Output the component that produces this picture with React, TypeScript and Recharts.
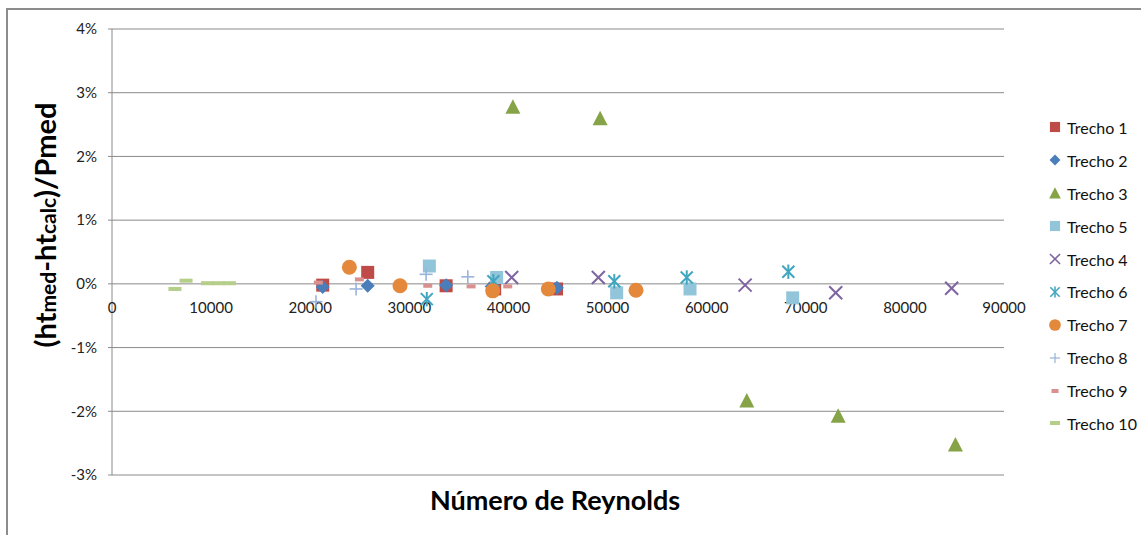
import React from 'react';
import { ScatterChart, Scatter, XAxis, YAxis, CartesianGrid, Legend, ReferenceDot } from 'recharts';

const xTicks = [0, 10000, 20000, 30000, 40000, 50000, 60000, 70000, 80000, 90000];
const yTicks = [-3, -2, -1, 0, 1, 2, 3, 4];

const trecho1 = [
  { x: 21260, y: -0.02 }, { x: 25800, y: 0.18 }, { x: 33710, y: -0.03 }, { x: 38610, y: -0.08 }, { x: 44850, y: -0.08 },
];
const trecho2 = [
  { x: 21260, y: -0.05 }, { x: 25800, y: -0.03 }, { x: 33710, y: -0.02 }, { x: 38310, y: -0.04 }, { x: 44890, y: -0.06 },
];
const trecho3 = [
  { x: 40450, y: 2.78 }, { x: 49250, y: 2.6 }, { x: 64050, y: -1.83 }, { x: 73270, y: -2.07 }, { x: 85100, y: -2.52 },
];
const trecho5 = [
  { x: 32020, y: 0.28 }, { x: 38810, y: 0.1 }, { x: 50920, y: -0.14 }, { x: 58320, y: -0.08 }, { x: 68680, y: -0.22 },
];
const trecho4 = [
  { x: 40330, y: 0.1 }, { x: 49070, y: 0.1 }, { x: 63880, y: -0.02 }, { x: 73020, y: -0.14 }, { x: 84720, y: -0.07 },
];
const trecho6 = [
  { x: 31760, y: -0.24 }, { x: 38480, y: 0.04 }, { x: 50680, y: 0.04 }, { x: 57990, y: 0.1 }, { x: 68240, y: 0.19 },
];
const trecho7 = [
  { x: 23950, y: 0.26 }, { x: 29060, y: -0.03 }, { x: 38410, y: -0.11 }, { x: 44020, y: -0.08 }, { x: 52870, y: -0.1 },
];
const trecho8 = [
  { x: 20580, y: -0.28 }, { x: 24630, y: -0.08 }, { x: 31690, y: 0.15 }, { x: 35900, y: 0.11 },
];
const trecho9 = [
  { x: 20820, y: 0.02 }, { x: 24960, y: 0.07 }, { x: 31860, y: -0.03 }, { x: 36230, y: -0.04 }, { x: 39930, y: -0.04 },
];
const trecho10 = [
  { x: 6350, y: -0.08 }, { x: 7470, y: 0.05 }, { x: 9630, y: 0.01 }, { x: 10740, y: 0.01 }, { x: 11860, y: 0.01 },
];

type Kind = 'square' | 'diamond' | 'triangle' | 'x' | 'star' | 'circle' | 'plus' | 'dash' | 'wdash';

const SERIES: { name: string; data: { x: number; y: number }[]; color: string; kind: Kind }[] = [
  { name: 'Trecho 1', data: trecho1, color: '#BE4B48', kind: 'square' },
  { name: 'Trecho 2', data: trecho2, color: '#4A7EBB', kind: 'diamond' },
  { name: 'Trecho 3', data: trecho3, color: '#86A447', kind: 'triangle' },
  { name: 'Trecho 5', data: trecho5, color: '#92C5D9', kind: 'square' },
  { name: 'Trecho 4', data: trecho4, color: '#7E64A0', kind: 'x' },
  { name: 'Trecho 6', data: trecho6, color: '#40A6BF', kind: 'star' },
  { name: 'Trecho 7', data: trecho7, color: '#E4893C', kind: 'circle' },
  { name: 'Trecho 8', data: trecho8, color: '#98B4DA', kind: 'plus' },
  { name: 'Trecho 9', data: trecho9, color: '#D9908E', kind: 'dash' },
  { name: 'Trecho 10', data: trecho10, color: '#B5CE8A', kind: 'wdash' },
];

function Marker({ kind, cx, cy, color, s = 1 }: { kind: Kind; cx: number; cy: number; color: string; s?: number }) {
  if (cx == null || cy == null) return null;
  switch (kind) {
    case 'square': {
      const h = 6.5 * s;
      return <rect x={cx - h} y={cy - h} width={2 * h} height={2 * h} fill={color} />;
    }
    case 'diamond': {
      const h = 7 * s;
      return <polygon points={`${cx},${cy - h} ${cx + h},${cy} ${cx},${cy + h} ${cx - h},${cy}`} fill={color} />;
    }
    case 'triangle': {
      const h = 7.5 * s;
      return <polygon points={`${cx},${cy - h} ${cx + h},${cy + h * 0.95} ${cx - h},${cy + h * 0.95}`} fill={color} />;
    }
    case 'circle':
      return <circle cx={cx} cy={cy} r={7.5 * s} fill={color} />;
    case 'x': {
      const h = 6.5 * s;
      return (
        <g stroke={color} strokeWidth={2 * Math.max(s, 0.6)}>
          <line x1={cx - h} y1={cy - h} x2={cx + h} y2={cy + h} />
          <line x1={cx - h} y1={cy + h} x2={cx + h} y2={cy - h} />
        </g>
      );
    }
    case 'star': {
      const h = 6 * s;
      return (
        <g stroke={color} strokeWidth={2 * Math.max(s, 0.6)}>
          <line x1={cx - h} y1={cy - h} x2={cx + h} y2={cy + h} />
          <line x1={cx - h} y1={cy + h} x2={cx + h} y2={cy - h} />
          <line x1={cx} y1={cy - h * 1.2} x2={cx} y2={cy + h * 1.2} />
        </g>
      );
    }
    case 'plus': {
      const h = 6.5 * s;
      return (
        <g stroke={color} strokeWidth={1.6 * Math.max(s, 0.6)}>
          <line x1={cx - h} y1={cy} x2={cx + h} y2={cy} />
          <line x1={cx} y1={cy - h} x2={cx} y2={cy + h} />
        </g>
      );
    }
    case 'dash': {
      const w = 4.5 * s;
      return <rect x={cx - w} y={cy - 2} width={2 * w} height={4} fill={color} />;
    }
    case 'wdash': {
      const w = 6.5 * s;
      return <rect x={cx - w} y={cy - 2} width={2 * w} height={4} fill={color} />;
    }
  }
  return null;
}

const FONT = 'Lato, "Open Sans", sans-serif';

function LegendBox() {
  return (
    <div style={{ fontFamily: FONT, fontSize: 16, color: '#111' }}>
      {SERIES.map((s) => (
        <div key={s.name} style={{ height: 32.9, display: 'flex', alignItems: 'center' }}>
          <svg width={20} height={20} style={{ marginRight: 2 }}>
            <Marker kind={s.kind} cx={10} cy={10} color={s.color} s={0.78} />
          </svg>
          <span>{s.name}</span>
        </div>
      ))}
    </div>
  );
}

function YTitle() {
  return (
    <text
      transform="translate(56, 225) rotate(-90)"
      textAnchor="middle"
      fontFamily={FONT}
      fontWeight={700}
      fontSize={29}
      fill="#000"
    >
      <tspan>(ht</tspan>
      <tspan fontSize={21}>med</tspan>
      <tspan>-ht</tspan>
      <tspan fontSize={21}>calc</tspan>
      <tspan>)/Pmed</tspan>
    </text>
  );
}

function XTitle() {
  return (
    <text x={555} y={510} textAnchor="middle" fontFamily={FONT} fontWeight={700} fontSize={27} fill="#000">
      Número de Reynolds
    </text>
  );
}

export default function App() {
  return (
    <div style={{ position: 'absolute', left: 0, top: 0, width: 1141, height: 535, background: '#fff' }}>
      <div
        style={{
          position: 'absolute',
          left: 6,
          top: 8,
          width: 1200,
          height: 600,
          borderTop: '2px solid #8c8c8c',
          borderLeft: '2px solid #8c8c8c',
        }}
      />
      <div style={{ position: 'absolute', left: 0, top: 0 }}>
        <ScatterChart width={1141} height={535} margin={{ top: 29, right: 137, bottom: 0, left: 0 }}>
          <CartesianGrid vertical={false} stroke="#8a8a8a" strokeWidth={1} />
          <XAxis
            type="number"
            dataKey="x"
            domain={[0, 90000]}
            ticks={xTicks}
            axisLine={false}
            tickLine={false}
            tick={false}
            height={60}
            label={{ content: () => <XTitle /> }}
          />
          <YAxis
            type="number"
            dataKey="y"
            domain={[-3, 4]}
            ticks={yTicks}
            width={112}
            tickFormatter={(v: number) => `${v}%`}
            axisLine={{ stroke: '#8a8a8a' }}
            tickLine={{ stroke: '#8a8a8a' }}
            tickSize={4}
            tickMargin={11}
            tick={{ fontFamily: FONT, fontSize: 15, fill: '#222' }}
            label={{ content: () => <YTitle /> }}
          />
          {xTicks.map((v) => (
            <ReferenceDot
              key={v}
              x={v}
              y={0}
              r={0}
              fill="none"
              stroke="none"
              label={{
                content: (p: any) => (
                  <text
                    x={p.viewBox.x + (p.viewBox.width || 0) / 2}
                    y={p.viewBox.y + 29}
                    textAnchor="middle"
                    fontFamily={FONT}
                    fontSize={15}
                    fill="#222"
                  >
                    {v}
                  </text>
                ),
              }}
            />
          ))}
          {SERIES.map((s) => (
            <Scatter
              key={s.name}
              name={s.name}
              data={s.data}
              fill={s.color}
              isAnimationActive={false}
              shape={(p: any) => <Marker kind={s.kind} cx={p.cx} cy={p.cy} color={s.color} />}
            />
          ))}
          <Legend
            layout="vertical"
            align="center"
            verticalAlign="middle"
            wrapperStyle={{ left: 1045, top: 111, width: 100 }}
            content={() => <LegendBox />}
          />
        </ScatterChart>
      </div>
    </div>
  );
}
